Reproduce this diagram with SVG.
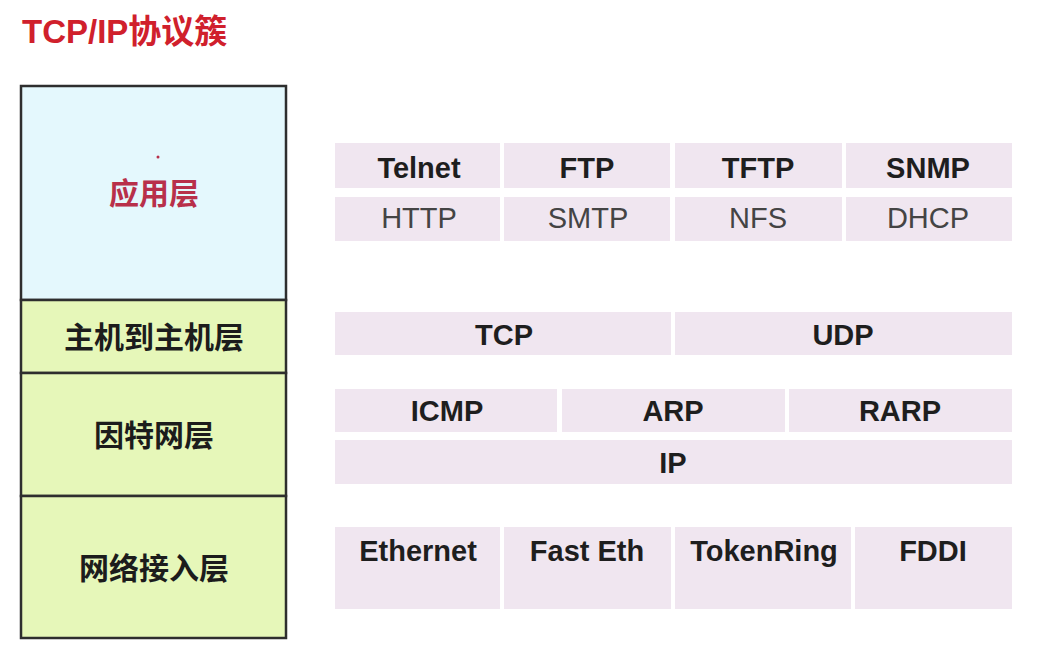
<svg xmlns="http://www.w3.org/2000/svg" width="1048" height="657" viewBox="0 0 1048 657">
  <style>
    .title { font-family: "Liberation Sans", "Noto Sans CJK SC", sans-serif; font-weight: bold; font-size: 33px; fill: #d0202c; }
    .layer-app { fill: #e4f8fd; stroke: #2e2e2e; stroke-width: 2.5; }
    .layer { fill: #e6f7b9; stroke: #2e2e2e; stroke-width: 2.5; }
    .lbl { font-family: "Noto Sans CJK SC", sans-serif; font-weight: bold; font-size: 30px; fill: #1c1c1c; text-anchor: middle; }
    .lbl-app { fill: #b8304a; }
    .cell { fill: #f0e6f0; }
    .p { font-family: "Liberation Sans", Arial, sans-serif; font-size: 29px; text-anchor: middle; }
    .b { font-weight: bold; fill: #1e1e1e; }
    .r { fill: #444444; }
  </style>

  <rect width="1048" height="657" fill="#ffffff"/>

  <text class="title" x="22" y="43">TCP/IP协议簇</text>

  <!-- layer stack -->
  <g id="layer-application">
    <rect class="layer-app" x="21" y="86" width="265" height="214"/>
    <circle cx="158" cy="157" r="1.5" fill="#b8304a"/>
    <text class="lbl lbl-app" x="154" y="204">应用层</text>
  </g>
  <g id="layer-host">
    <rect class="layer" x="21" y="300" width="265" height="73"/>
    <text class="lbl" x="154" y="348">主机到主机层</text>
  </g>
  <g id="layer-internet">
    <rect class="layer" x="21" y="373" width="265" height="123"/>
    <text class="lbl" x="154" y="446">因特网层</text>
  </g>
  <g id="layer-netaccess">
    <rect class="layer" x="21" y="496" width="265" height="142"/>
    <text class="lbl" x="154" y="579">网络接入层</text>
  </g>

  <!-- application protocols -->
  <g id="app-protocols">
    <rect class="cell" x="335" y="143" width="165" height="45"/>
    <rect class="cell" x="504" y="143" width="166" height="45"/>
    <rect class="cell" x="675" y="143" width="167" height="45"/>
    <rect class="cell" x="846" y="143" width="166" height="45"/>
    <rect class="cell" x="335" y="197" width="165" height="44"/>
    <rect class="cell" x="504" y="197" width="166" height="44"/>
    <rect class="cell" x="675" y="197" width="167" height="44"/>
    <rect class="cell" x="846" y="197" width="166" height="44"/>
    <text class="p b" x="419" y="178">Telnet</text>
    <text class="p b" x="587" y="178">FTP</text>
    <text class="p b" x="758" y="178">TFTP</text>
    <text class="p b" x="928" y="178">SNMP</text>
    <text class="p r" x="419" y="228">HTTP</text>
    <text class="p r" x="588" y="228">SMTP</text>
    <text class="p r" x="758" y="228">NFS</text>
    <text class="p r" x="928" y="228">DHCP</text>
  </g>

  <!-- transport protocols -->
  <g id="transport-protocols">
    <rect class="cell" x="335" y="312" width="336" height="43"/>
    <rect class="cell" x="675" y="312" width="337" height="43"/>
    <text class="p b" x="504" y="345">TCP</text>
    <text class="p b" x="843" y="345">UDP</text>
  </g>

  <!-- internet protocols -->
  <g id="internet-protocols">
    <rect class="cell" x="335" y="389" width="222" height="43"/>
    <rect class="cell" x="562" y="389" width="223" height="43"/>
    <rect class="cell" x="789" y="389" width="223" height="43"/>
    <rect class="cell" x="335" y="440" width="677" height="44"/>
    <text class="p b" x="447" y="421">ICMP</text>
    <text class="p b" x="673" y="421">ARP</text>
    <text class="p b" x="900" y="421">RARP</text>
    <text class="p b" x="673" y="473">IP</text>
  </g>

  <!-- network access protocols -->
  <g id="link-protocols">
    <rect class="cell" x="335" y="527" width="165" height="82"/>
    <rect class="cell" x="504" y="527" width="167" height="82"/>
    <rect class="cell" x="675" y="527" width="176" height="82"/>
    <rect class="cell" x="855" y="527" width="157" height="82"/>
    <text class="p b" x="418" y="561">Ethernet</text>
    <text class="p b" x="587" y="561">Fast Eth</text>
    <text class="p b" x="764" y="561">TokenRing</text>
    <text class="p b" x="933" y="561">FDDI</text>
  </g>
</svg>
